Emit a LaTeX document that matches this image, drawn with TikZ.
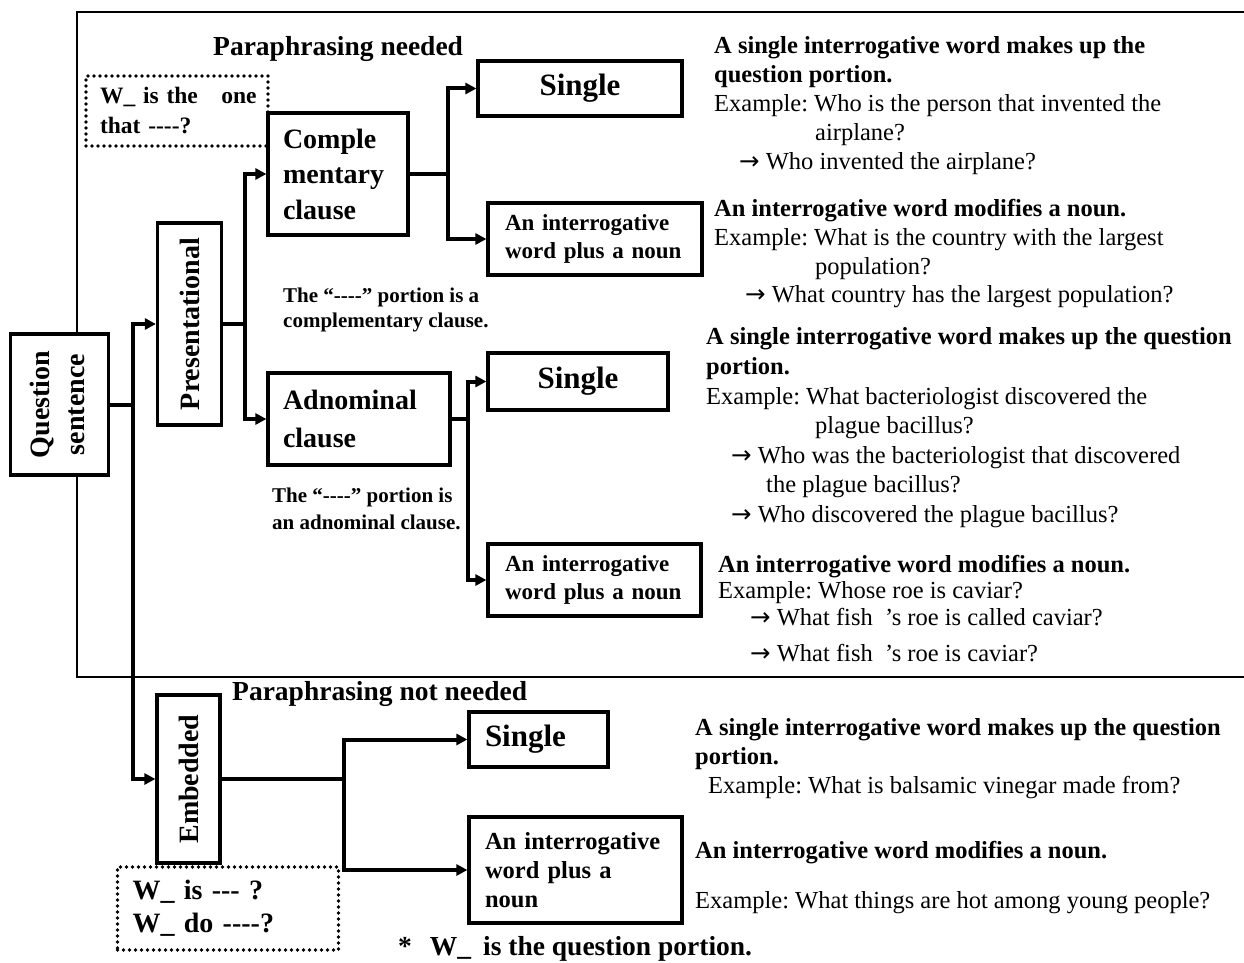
\documentclass[tikz,border=0pt]{standalone}
\usepackage{fontspec}
\setmainfont{Liberation Serif}[Ligatures=TeXOff]
\newfontfamily\arrowfont{DejaVu Sans}
\usetikzlibrary{arrows.meta}
\newcommand{\fsz}[2]{\fontsize{#1}{#2}\selectfont}
\newcommand{\rarr}{{\arrowfont →}}
\AtBeginDocument{\frenchspacing}
\begin{document}
\begin{tikzpicture}[x=1pt,y=-1pt,
  frameline/.style={line width=2pt},
  box/.style={draw, line width=3.2pt, fill=white, inner sep=0pt, font=\bfseries},
  lbox/.style={box, align=left, text width=#1},
  dotbox/.style={draw, line width=3.6pt, dash pattern=on 0pt off 6pt, line cap=round, inner sep=0pt, align=left, font=\bfseries, text width=#1},
  conn/.style={line width=4pt, line join=miter},
  arr/.style={conn, -{Triangle[length=11pt,width=11pt]}},
  txt/.style={inner sep=0pt, anchor=west, text height=16pt, text depth=0pt, font=\fsz{24.5}{28.5}},
  btxt/.style={txt, font=\fsz{24.5}{28.5}\bfseries},
  stxt/.style={txt, text height=14pt, font=\fsz{21}{25}\bfseries},
  htxt/.style={txt, text height=18pt, font=\fsz{27.5}{32}\bfseries}]
\useasboundingbox (0,0) rectangle (1244,963);

% frame
\draw[frameline] (1250,12) -- (77,12) -- (77,677) -- (1250,677);

% main boxes
\node[box, minimum width=98, minimum height=141, font=\fsz{28}{35}\bfseries] (Q) at (59.5,404.5)
  {\rotatebox{90}{\begin{tabular}{@{}c@{}}Question\\sentence\end{tabular}}};
\node[box, minimum width=64, minimum height=202, font=\fsz{28}{35}\bfseries] (P) at (189.5,324)
  {\rotatebox{90}{Presentational}};
\node[box, minimum width=63, minimum height=168, font=\fsz{28}{35}\bfseries] (E) at (188.5,779)
  {\rotatebox{90}{Embedded}};
\node[lbox=110pt, inner xsep=15pt, minimum height=122, font=\fsz{28}{35.5}\bfseries] (C) at (338,174)
  {Comple\\mentary\\clause};
\node[lbox=152pt, inner xsep=15pt, minimum height=92, font=\fsz{28}{38}\bfseries] (A) at (359,419)
  {Adnominal\\clause};
\node[box, minimum width=204, minimum height=55, font=\fsz{31}{36}\bfseries] (S1) at (580,88.5) {Single};
\node[lbox=180pt, inner xsep=17pt, minimum height=72, font=\fsz{23}{28}\bfseries] (I1) at (595,239)
  {An interrogative\\word plus a noun};
\node[box, minimum width=180, minimum height=57, font=\fsz{31}{36}\bfseries] (S2) at (578,381.5) {Single};
\node[lbox=179pt, inner xsep=17pt, minimum height=72, font=\fsz{23}{28}\bfseries] (I2) at (594.5,580)
  {An interrogative\\word plus a noun};
\node[lbox=107pt, inner xsep=16pt, minimum height=55, font=\fsz{31}{36}\bfseries] (S3) at (538.5,739.5) {Single};
\node[lbox=181pt, inner xsep=16pt, minimum height=106, font=\fsz{24.5}{29}\bfseries] (I3) at (575.5,870)
  {An interrogative\\word plus a\\noun};

% dotted boxes
\node[dotbox=166pt, inner xsep=8pt, minimum height=70, font=\fsz{23.5}{30}\bfseries] (D1) at (177,111)
  {\hspace*{6pt}W\_ is the\ \ \ one\\\hspace*{6pt}that ----?};
\node[dotbox=201pt, inner xsep=10pt, minimum height=83, font=\fsz{28}{33}\bfseries] (D2) at (228,908.5)
  {\hspace*{5pt}W\_ is --- ?\\\hspace*{5pt}W\_ do ----?};

% connectors
\coordinate (j1) at (133,404.5);
\coordinate (j2) at (245,324);
\coordinate (j3) at (448,174);
\coordinate (j4) at (468,419);
\coordinate (j5) at (344,779);
\draw[conn] (Q.east) -- (j1);
\draw[arr] (j1) |- (P.west);
\draw[arr] (j1) |- (E.west);
\draw[conn] (P.east) -- (j2);
\draw[arr] (j2) |- (C.west);
\draw[arr] (j2) |- (A.west);
\draw[conn] (C.east) -- (j3);
\draw[arr] (j3) |- (S1.west);
\draw[arr] (j3) |- (I1.west);
\draw[conn] (A.east) -- (j4);
\draw[arr] (j4) |- (S2.west);
\draw[arr] (j4) |- (I2.west);
\draw[conn] (E.east) -- (j5);
\draw[arr] (j5) |- (S3.west);
\draw[arr] (j5) |- (I3.west);

% headings and notes
\node[htxt] (h1) at (213,47) {Paraphrasing needed};
\node[htxt] (h2) at (232,691) {Paraphrasing not needed};
\node[stxt] (n1) at (283,295) {The “----” portion is a};
\node[stxt] (n2) at (283,320) {complementary clause.};
\node[stxt] (n3) at (272,495) {The “----” portion is};
\node[stxt] (n4) at (272,522) {an adnominal clause.};
\node[htxt] (fn) at (398,946) {*\hspace{18pt}W\_\hspace{12pt}is the question portion.};

% right-hand text, block 1
\node[btxt] (r11) at (714,46) {A single interrogative word makes up the};
\node[btxt] (r12) at (714,75) {question portion.};
\node[txt] (r13) at (714,104) {Example: Who is the person that invented the};
\node[txt] (r14) at (815,132) {airplane?};
\node[txt] (r15) at (739,161) {\rarr\ Who invented the airplane?};
% block 2
\node[btxt] (r21) at (714,208) {An interrogative word modifies a noun.};
\node[txt] (r22) at (714,237) {Example: What is the country with the largest};
\node[txt] (r23) at (815,266) {population?};
\node[txt] (r24) at (745,294) {\rarr\ What country has the largest population?};
% block 3
\node[btxt] (r31) at (706,336) {A single interrogative word makes up the question};
\node[btxt] (r32) at (706,366) {portion.};
\node[txt] (r33) at (706,396) {Example: What bacteriologist discovered the};
\node[txt] (r34) at (815,425) {plague bacillus?};
\node[txt] (r35) at (731,455) {\rarr\ Who was the bacteriologist that discovered};
\node[txt] (r36) at (766,484) {the plague bacillus?};
\node[txt] (r37) at (731,514) {\rarr\ Who discovered the plague bacillus?};
% block 4
\node[btxt] (r41) at (718,564) {An interrogative word modifies a noun.};
\node[txt] (r42) at (718,590) {Example: Whose roe is caviar?};
\node[txt] (r43) at (750,617) {\rarr\ What fish\ \ ’s roe is called caviar?};
\node[txt] (r44) at (750,653) {\rarr\ What fish\ \ ’s roe is caviar?};
% block 5
\node[btxt] (r51) at (695,727) {A single interrogative word makes up the question};
\node[btxt] (r52) at (695,756) {portion.};
\node[txt] (r53) at (708,785) {Example: What is balsamic vinegar made from?};
\node[btxt] (r61) at (695,850) {An interrogative word modifies a noun.};
\node[txt] (r62) at (695,900) {Example: What things are hot among young people?};
\end{tikzpicture}
\end{document}
